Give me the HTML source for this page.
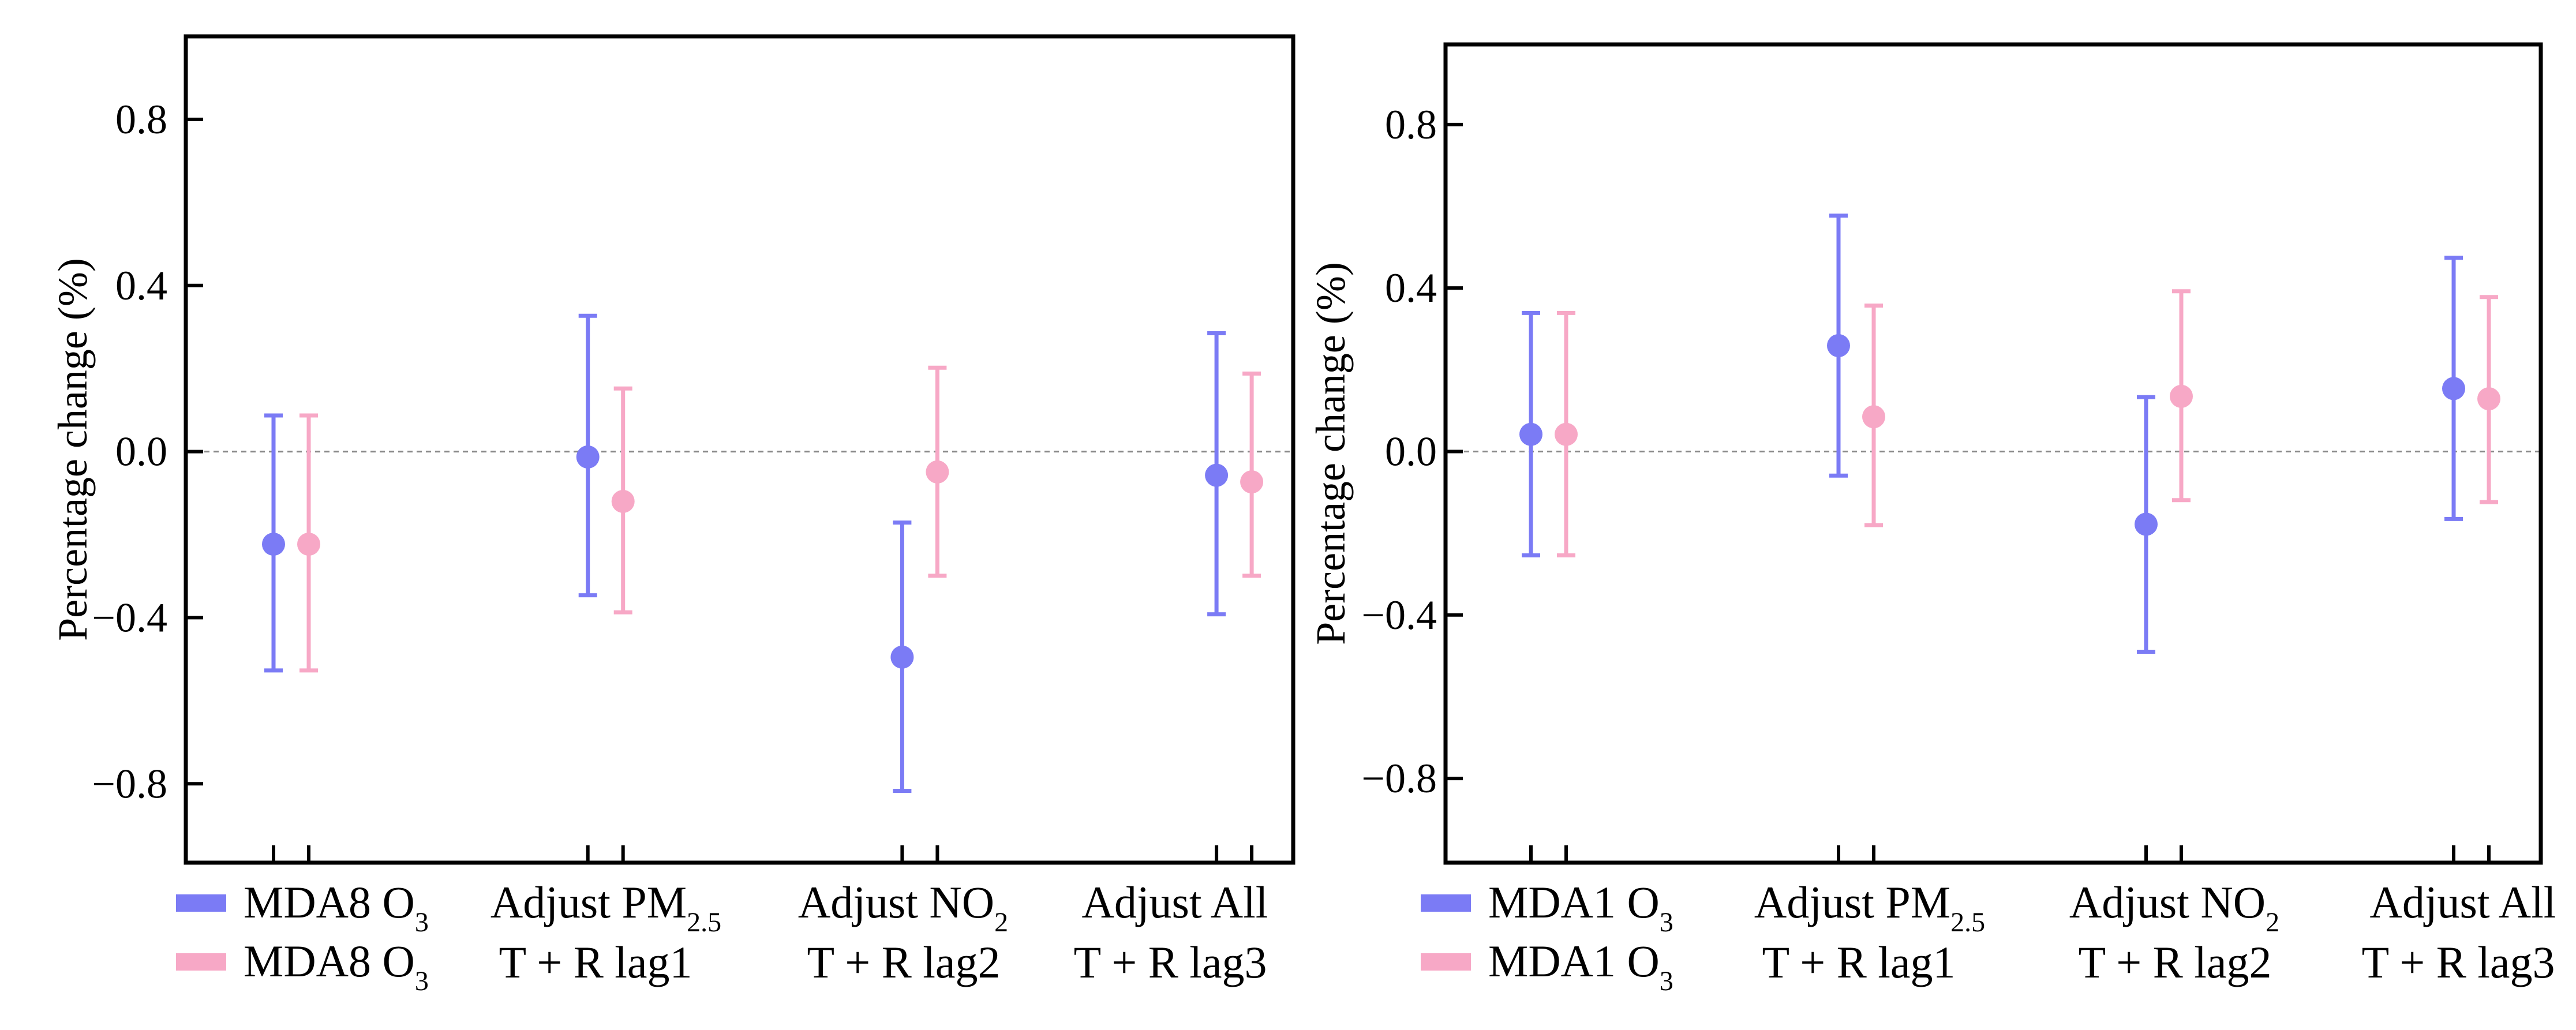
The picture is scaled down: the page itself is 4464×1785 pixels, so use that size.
<!DOCTYPE html>
<html><head><meta charset="utf-8"><style>
html,body{margin:0;padding:0;background:#fff;}
svg{display:block;font-family:"Liberation Serif",serif;}
</style></head><body>
<svg id="chart" width="4464" height="1785" viewBox="0 0 4464 1785" xmlns="http://www.w3.org/2000/svg"></svg>
<script>
const categories = ["MDA8 O3", "Adjust PM2.5", "Adjust NO2", "Adjust All"];
const leftBlueMean = [-0.223, -0.013, -0.495, -0.057];
const leftBlueLow  = [-0.527, -0.346, -0.817, -0.392];
const leftBlueHigh = [0.087, 0.327, -0.171, 0.285];
const leftPinkMean = [-0.223, -0.120, -0.049, -0.073];
const leftPinkLow  = [-0.527, -0.387, -0.299, -0.299];
const leftPinkHigh = [0.087, 0.152, 0.202, 0.188];
const rightBlueMean = [0.042, 0.259, -0.178, 0.154];
const rightBlueLow  = [-0.254, -0.059, -0.490, -0.165];
const rightBlueHigh = [0.339, 0.577, 0.133, 0.474];
const rightPinkMean = [0.042, 0.085, 0.135, 0.129];
const rightPinkLow  = [-0.254, -0.180, -0.119, -0.124];
const rightPinkHigh = [0.339, 0.357, 0.392, 0.378];
const yTicks = [-0.8, -0.4, 0.0, 0.4, 0.8];
const yTickLabels = ["\u22120.8", "\u22120.4", "0.0", "0.4", "0.8"];

const NS = "http://www.w3.org/2000/svg";
const svg = document.getElementById("chart");
const BLUE = "#7b7bf5", PINK = "#f7a8c6";
function mk(tag, attrs, parent) {
  const e = document.createElementNS(NS, tag);
  for (const k in attrs) e.setAttribute(k, attrs[k]);
  (parent || svg).appendChild(e);
  return e;
}

function panel(cfg) {
  const g = mk("g", {});
  
  
  const yScale = v => cfg.bottom - (v - cfg.yMin) / (cfg.yMax - cfg.yMin) * (cfg.bottom - cfg.top);
  const xScale = (i, s) => cfg.x0 + i * cfg.step + s * cfg.pair;
  const zl = mk("line", {x1: cfg.left, x2: cfg.right, y1: yScale(0), y2: yScale(0), stroke: "#888", "stroke-width": 3, "stroke-dasharray": "9 7"}, g);
  
  
  const fr = mk("rect", {x: cfg.left, y: cfg.top, width: cfg.right - cfg.left, height: cfg.bottom - cfg.top, fill: "none", stroke: "#000", "stroke-width": 7}, g);
  
  
  yTicks.forEach((t, i) => {
    const y = yScale(t);
    const tk = mk("line", {x1: cfg.left, x2: cfg.left + 30, y1: y, y2: y, stroke: "#000", "stroke-width": 6}, g);
    
    
    const lb = mk("text", {x: cfg.labelRight, y: y + 24, "text-anchor": "end", "font-size": 72, fill: "#000"}, g);
    lb.textContent = yTickLabels[i];
    
    
  });
  const yt = mk("text", {x: 0, y: 0, transform: `translate(${cfg.titleX},${(cfg.top + cfg.bottom) / 2}) rotate(-90)`, "text-anchor": "middle", "font-size": 72, fill: "#000"}, g);
  yt.textContent = "Percentage change (%)";
  
  
  const series = [[cfg.bm, cfg.bl, cfg.bh, BLUE, 0, "blue"], [cfg.pm, cfg.pl, cfg.ph, PINK, 1, "pink"]];
  categories.forEach((c, i) => {
    series.forEach(s => {
      const x = xScale(i, s[4]);
      const tk = mk("line", {x1: x, x2: x, y1: cfg.bottom, y2: cfg.bottom - 30, stroke: "#000", "stroke-width": 6}, g);
      
      
      const yH = yScale(s[2][i]), yL = yScale(s[1][i]), yM = yScale(s[0][i]);
      const eb = mk("path", {d: `M${x},${yH}V${yL}M${x - 16},${yH}H${x + 16}M${x - 16},${yL}H${x + 16}`, stroke: s[3], "stroke-width": 7, fill: "none"}, g);
      
      
      const pt = mk("circle", {cx: x, cy: yM, r: 20, fill: s[3]}, g);
      
      
    });
  });
  const lg = mk("g", {}, g);
  
  
  [[BLUE, 1550], [PINK, 1652]].forEach((r, k) => {
    const sw = mk("rect", {x: cfg.swX, y: r[1], width: 87, height: 30, fill: r[0]}, lg);
    
    
    const t = mk("text", {x: cfg.swX + 117, y: r[1] + 40, "font-size": 78, fill: "#000"}, lg);
    t.innerHTML = cfg.metric + ' O<tspan font-size="48" dy="24">3</tspan>';
    
    
  });
  const top = ['Adjust PM<tspan font-size="48" dy="24">2.5</tspan>', 'Adjust NO<tspan font-size="48" dy="24">2</tspan>', 'Adjust All'];
  const bot = ["T + R lag1", "T + R lag2", "T + R lag3"];
  for (let i = 1; i < 4; i++) {
    const t = mk("text", {x: cfg.lab1[i - 1], y: 1590, "text-anchor": "middle", "font-size": 78, fill: "#000"}, g);
    t.innerHTML = top[i - 1];
    
    
    const b = mk("text", {x: cfg.lab2[i - 1], y: 1694, "text-anchor": "middle", "font-size": 78, fill: "#000"}, g);
    b.textContent = bot[i - 1];
    
    
  }
}

panel({name: "left-panel", metric: "MDA8", left: 322, right: 2241, top: 63, bottom: 1495, yMin: -0.99, yMax: 1.0,
  x0: 474, step: 544.7, pair: 61, labelRight: 290, titleX: 150, swX: 305,
  lab1: [1050, 1565, 2036], lab2: [1032, 1566, 2028],
  bm: leftBlueMean, bl: leftBlueLow, bh: leftBlueHigh, pm: leftPinkMean, pl: leftPinkLow, ph: leftPinkHigh});
panel({name: "right-panel", metric: "MDA1", left: 2505, right: 4403, top: 77, bottom: 1495, yMin: -1.006, yMax: 0.996,
  x0: 2653, step: 533, pair: 61, labelRight: 2490, titleX: 2330, swX: 2462,
  lab1: [3240, 3768, 4268], lab2: [3221, 3769, 4260],
  bm: rightBlueMean, bl: rightBlueLow, bh: rightBlueHigh, pm: rightPinkMean, pl: rightPinkLow, ph: rightPinkHigh});
</script>
</body></html>
